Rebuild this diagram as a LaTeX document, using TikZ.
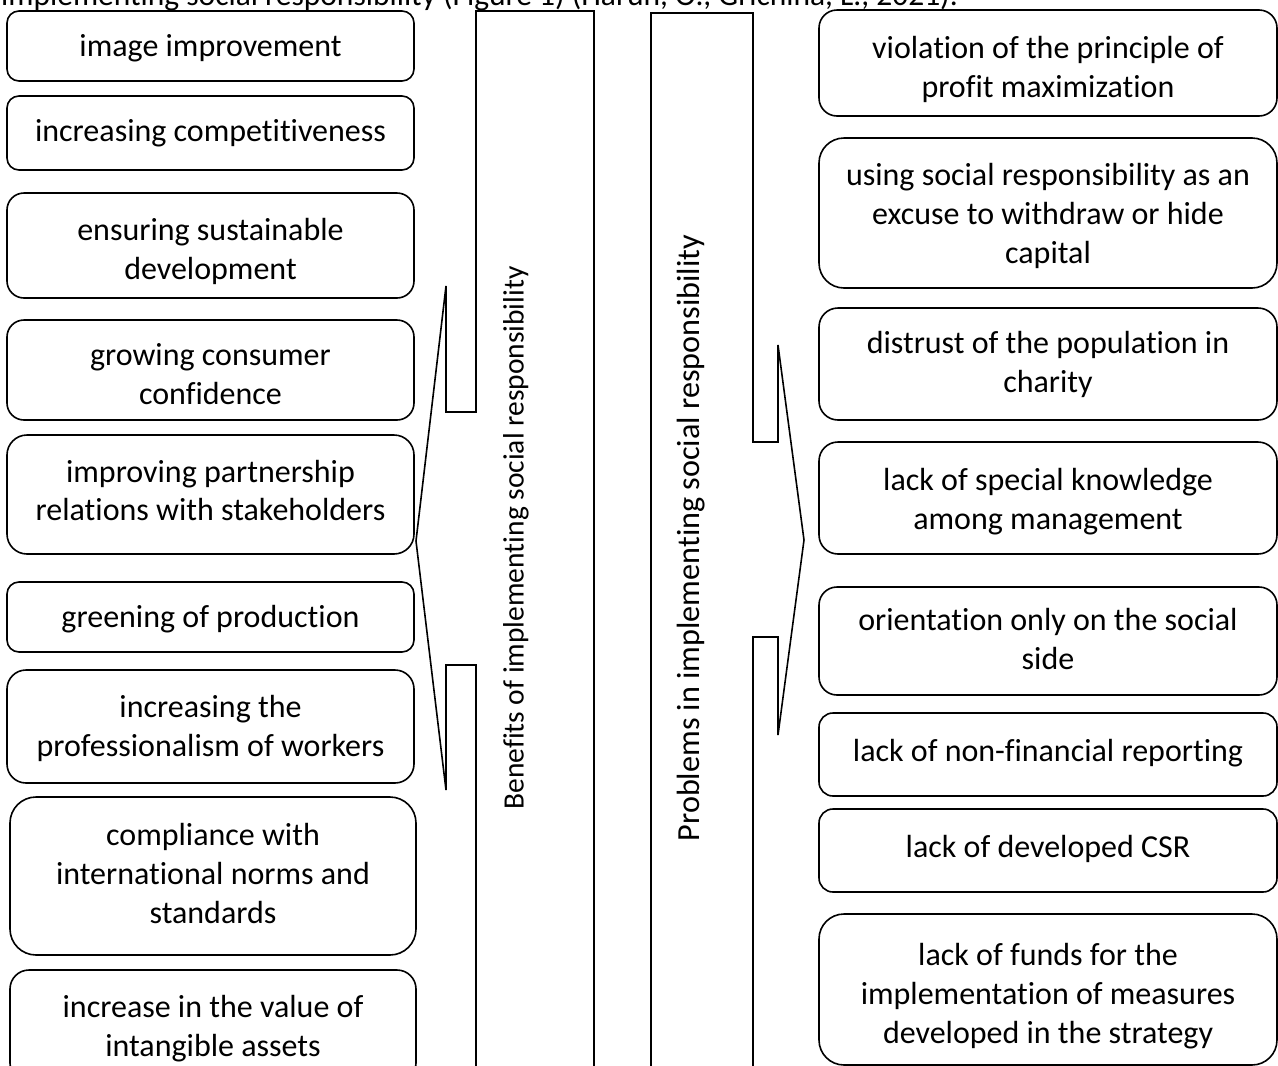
\documentclass[tikz,border=0pt]{standalone}
\usepackage{fontspec}
\setmainfont{Carlito}[Ligatures={NoCommon,NoContextual}]
\begin{document}
\begin{tikzpicture}[x=1pt, y=-1pt,
  item/.style={draw, line width=1.6pt, inner sep=0pt},
  lbox/.style={item, minimum width=407pt},
  rbox/.style={item, minimum width=458pt},
  txt/.style={align=center, inner sep=0pt, font=\fontsize{32}{39}\selectfont},
  callout/.style={draw, line width=1.6pt, line join=miter},
  vlabel/.style={rotate=90, inner sep=0pt}]
\useasboundingbox (0,0) rectangle (1278,1066);
\clip (0,0) rectangle (1278,1066);

% caption line running off the top edge
\node[anchor=base west, inner sep=0pt, font=\fontsize{31.5}{38}\selectfont] (caption) at (1,5)
  {implementing social responsibility (Figure 1) (Harun, O., Grichina, L., 2021).};

% benefits (left column): frames
\node[lbox, minimum height=70pt, rounded corners=12pt] (b1) at (210.5,46) {};
\node[lbox, minimum height=74pt, rounded corners=12pt] (b2) at (210.5,133) {};
\node[lbox, minimum height=105pt, rounded corners=17pt] (b3) at (210.5,245.5) {};
\node[lbox, minimum height=100pt, rounded corners=17pt] (b4) at (210.5,370) {};
\node[lbox, minimum height=119pt, rounded corners=20pt] (b5) at (210.5,494.5) {};
\node[lbox, minimum height=70pt, rounded corners=12pt] (b6) at (210.5,617) {};
\node[lbox, minimum height=113pt, rounded corners=19pt] (b7) at (210.5,726.5) {};
\node[item, minimum width=406pt, minimum height=158pt, rounded corners=26pt] (b8) at (213,876) {};
\node[item, minimum width=406pt, minimum height=112pt, rounded corners=19pt] (b9) at (213,1026) {};
% benefits: texts
\node[txt] (b1t) at (210.5,48) {image improvement};
\node[txt] (b2t) at (210.5,133) {increasing competitiveness};
\node[txt] (b3t) at (210.5,251) {ensuring sustainable\\development};
\node[txt] (b4t) at (210.5,374.5) {growing consumer\\confidence};
\node[txt] (b5t) at (210.5,490.5) {improving partnership\\relations with stakeholders};
\node[txt] (b6t) at (210.5,619) {greening of production};
\node[txt] (b7t) at (210.5,728) {increasing the\\professionalism of workers};
\node[txt] (b8t) at (213,873.5) {compliance with\\international norms and\\standards};
\node[txt] (b9t) at (213,1029) {increase in the value of\\intangible assets};

% problems (right column): frames
\node[rbox, minimum height=106pt, rounded corners=18pt] (p1) at (1048,63) {};
\node[rbox, minimum height=150pt, rounded corners=25pt] (p2) at (1048,213) {};
\node[rbox, minimum height=112pt, rounded corners=19pt] (p3) at (1048,364) {};
\node[rbox, minimum height=112pt, rounded corners=19pt] (p4) at (1048,498) {};
\node[rbox, minimum height=108pt, rounded corners=18pt] (p5) at (1048,641) {};
\node[rbox, minimum height=83pt, rounded corners=14pt] (p6) at (1048,754.5) {};
\node[rbox, minimum height=83pt, rounded corners=14pt] (p7) at (1048,850.5) {};
\node[rbox, minimum height=151pt, rounded corners=25pt] (p8) at (1048,989.5) {};
% problems: texts
\node[txt] (p1t) at (1048,69) {violation of the principle of\\profit maximization};
\node[txt] (p2t) at (1048,215.5) {using social responsibility as an\\excuse to withdraw or hide\\capital};
\node[txt] (p3t) at (1048,364.5) {distrust of the population in\\charity};
\node[txt] (p4t) at (1048,501.5) {lack of special knowledge\\among management};
\node[txt] (p5t) at (1048,639) {orientation only on the social\\side};
\node[txt] (p6t) at (1048,753.5) {lack of non-financial reporting};
\node[txt] (p7t) at (1048,848.5) {lack of developed CSR};
\node[txt] (p8t) at (1048,996) {lack of funds for the\\implementation of measures\\developed in the strategy};

% left-pointing bracket callout
\draw[callout] (476,11) -- (594,11) -- (594,1085) -- (476,1085) -- (476,665)
  -- (446,665) -- (446,790) -- (416,541) -- (446,286) -- (446,412) -- (476,412) -- cycle;
\node[vlabel, font=\fontsize{29.5}{35}\selectfont] (benefits) at (516,538)
  {Benefits of implementing social responsibility};

% right-pointing bracket callout
\draw[callout] (651,13) -- (753,13) -- (753,442) -- (778,442) -- (778,345)
  -- (804,540) -- (778,735) -- (778,637) -- (753,637) -- (753,1085) -- (651,1085) -- cycle;
\node[vlabel, font=\fontsize{32.2}{38}\selectfont] (problems) at (691,538)
  {Problems in implementing social responsibility};
\end{tikzpicture}
\end{document}
